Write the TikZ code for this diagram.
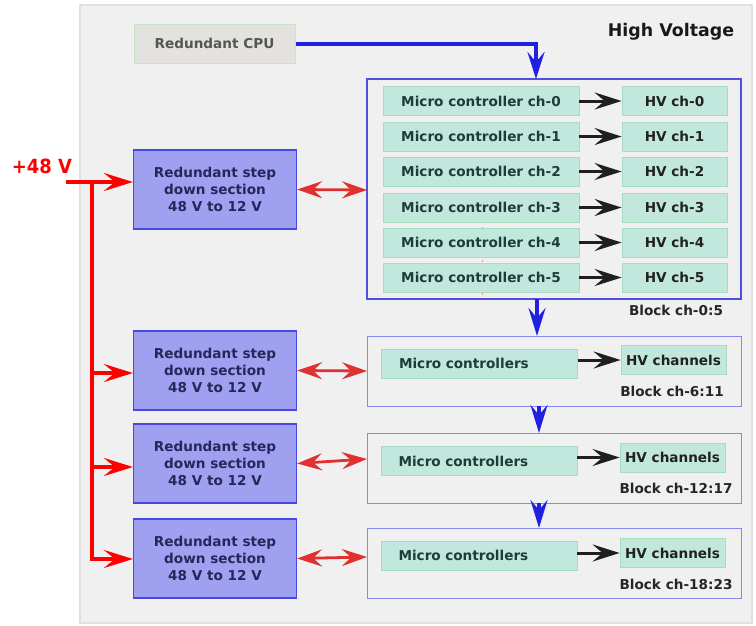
\documentclass[tikz,border=0pt]{standalone}
\usepackage{fontspec}
\setmainfont{DejaVu Sans}
\usetikzlibrary{arrows.meta}
\definecolor{panelfill}{HTML}{F0F0F0}
\definecolor{panelline}{HTML}{E0E0E0}
\definecolor{cpufill}{HTML}{E3E2DE}
\definecolor{cpuline}{HTML}{C8E4C8}
\definecolor{cputext}{HTML}{555555}
\definecolor{stepfill}{HTML}{A0A0F0}
\definecolor{stepline}{HTML}{4848E0}
\definecolor{steptext}{HTML}{26265A}
\definecolor{mcfill}{HTML}{C2E8DD}
\definecolor{mcline}{HTML}{A8DCC0}
\definecolor{mctext}{HTML}{1E3D38}
\definecolor{blkline}{HTML}{5050E0}
\definecolor{blklight}{HTML}{8888F0}
\definecolor{busred}{HTML}{FF0000}
\definecolor{linkred}{HTML}{E03030}
\definecolor{ctrlblue}{HTML}{2020E0}
\tikzset{
  txt/.style={font=\fontsize{13.6}{17}\selectfont\bfseries},
  cpubox/.style={txt, draw=cpuline, fill=cpufill, text=cputext, line width=1pt,
    minimum width=161pt, minimum height=39pt, inner sep=0pt},
  stepbox/.style={txt, draw=stepline, fill=stepfill, text=steptext, line width=1.2pt,
    minimum width=163pt, minimum height=79pt, align=center, inner sep=0pt},
  mcbox/.style={txt, draw=mcline, fill=mcfill, text=mctext, line width=0.8pt,
    minimum width=196pt, minimum height=29pt, inner sep=0pt},
  mcwide/.style={mcbox, text width=161pt, align=left, inner xsep=17pt},
  hvbox/.style={txt, draw=mcline, fill=mcfill, text=black!87, line width=0.8pt,
    minimum width=105pt, minimum height=29pt, inner sep=0pt},
  blocklabel/.style={txt, text=black!85, inner sep=0pt},
  hvarrow/.style={draw=black!88, line width=3pt, -{Stealth[length=27pt,width=17pt,inset=10pt]}},
  linkarrow/.style={draw=linkred, line width=2.8pt,
    {Stealth[length=25pt,width=17pt,inset=9pt]}-{Stealth[length=25pt,width=17pt,inset=9pt]}},
  busline/.style={draw=busred, line width=3.2pt},
  busarrow/.style={busline, -{Stealth[length=29pt,width=18pt,inset=11pt]}},
  chain/.style={draw=ctrlblue, line width=3.5pt, -{Stealth[length=28pt,width=17pt,inset=10pt]}},
}
\begin{document}
\begin{tikzpicture}[x=1pt,y=-1pt]
\useasboundingbox (0,0) rectangle (756,625);

% grey high voltage panel
\draw[panelline, fill=panelfill, line width=2.5pt] (80,5) rectangle (752,623);
\node[font=\fontsize{17.4}{20}\selectfont\bfseries, text=black!90, inner sep=0pt] (hvtitle) at (671,32) {High Voltage};

% supply input
\node[font=\fontsize{19.5}{22}\selectfont\bfseries, text=busred, inner sep=0pt, xscale=0.92] (vin) at (42,166) {+48 V};

% controller
\node[cpubox] (cpu) at (214.5,43.5) {Redundant CPU};

% step-down converters
\node[stepbox] (sd0) at (215,189.5) {Redundant step\\down section\\48 V to 12 V};
\node[stepbox] (sd1) at (215,370.5) {Redundant step\\down section\\48 V to 12 V};
\node[stepbox] (sd2) at (215,463.5) {Redundant step\\down section\\48 V to 12 V};
\node[stepbox] (sd3) at (215,558.5) {Redundant step\\down section\\48 V to 12 V};

% block ch-0:5 with one controller per channel
\coordinate (b0nw) at (367,79);
\coordinate (b0se) at (741,299);
\draw[blkline, line width=1.3pt] (b0nw) rectangle (b0se);
\coordinate (b0n) at (536,79);
\coordinate (b0s) at (537,299);
\coordinate (b0w) at (367,190);
\draw[red!45, line width=0.6pt, dash pattern=on 2pt off 9pt] (482,128) -- (482,298);

\foreach \i/\y in {0/101,1/136.5,2/171.5,3/207.5,4/242.5,5/277.5}{
  \node[mcbox] (mc\i) at (481,\y) {Micro controller ch-\i};
  \node[hvbox] (hv\i) at (674.5,\y) {HV ch-\i};
  \draw[hvarrow] (mc\i) -- (hv\i);
}
\node[blocklabel] (lab0) at (676,310) {Block ch-0:5};

% blocks ch-6:11, ch-12:17, ch-18:23
\draw[blklight, line width=0.9pt] (367,336) rectangle (741,406);
\coordinate (b1n) at (539,336); \coordinate (b1s) at (539,406); \coordinate (b1w) at (367,371);
\node[mcwide] (mca) at (479.5,363.5) {Micro controllers};
\node[hvbox] (hva) at (673.5,360) {HV channels};
\draw[hvarrow] (mca.east |- hva) -- (hva);
\node[blocklabel] (lab1) at (672,391) {Block ch-6:11};

\draw[blklight, line width=0.9pt] (367,433) rectangle (741,503);
\coordinate (b2n) at (539,433); \coordinate (b2s) at (539,503); \coordinate (b2w) at (367,459);
\node[mcwide] (mcb) at (479,461) {Micro controllers};
\node[hvbox] (hvb) at (672.5,457.5) {HV channels};
\draw[hvarrow] (mcb.east |- hvb) -- (hvb);
\node[blocklabel] (lab2) at (676,488) {Block ch-12:17};

\draw[blklight, line width=0.9pt] (367,528) rectangle (741,598);
\coordinate (b3n) at (539,528); \coordinate (b3w) at (367,557);
\node[mcwide] (mcc) at (479,555.5) {Micro controllers};
\node[hvbox] (hvc) at (672.5,553) {HV channels};
\draw[hvarrow] (mcc.east |- hvc) -- (hvc);
\node[blocklabel] (lab3) at (676,584) {Block ch-18:23};

% control chain
\draw[ctrlblue, line width=4pt, -{Stealth[length=27pt,width=17pt,inset=10pt]}]
  (cpu.east) -- (b0n |- cpu.east) -- (b0n);
\draw[chain] (b0s) -- ++(0,37);
\draw[chain] (b1s) -- (b2n);
\draw[chain] (b2s) -- (b3n);

% 12 V links to the blocks
\draw[linkarrow] (sd0.east) -- (b0w);
\draw[linkarrow] (sd1.east) -- (b1w);
\draw[linkarrow] (sd2.east) -- (b2w);
\draw[linkarrow] (sd3.east) -- (b3w);

% 48 V distribution bus
\coordinate (busin) at (66,182);
\coordinate (bustop) at (92,182);
\coordinate (busbot) at (92,559);
\draw[busline] (busin) -- (bustop) -- (busbot);
\draw[busarrow] (busin) -- (sd0.west |- busin);
\draw[busarrow] (92,373) -- (sd1.west |- 0,373);
\draw[busarrow] (92,467) -- (sd2.west |- 0,467);
\draw[busarrow] (90.4,559) -- (sd3.west |- 0,559);
\end{tikzpicture}
\end{document}
